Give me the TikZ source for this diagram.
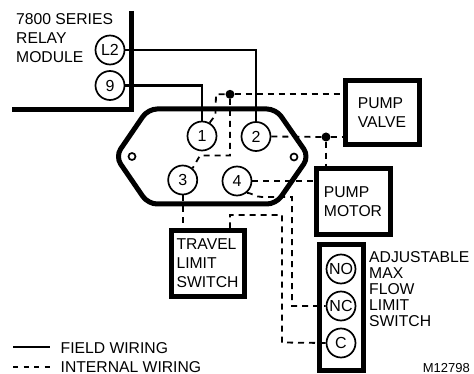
\documentclass[tikz,border=0pt]{standalone}
\usepackage{fontspec}
\setmainfont{Liberation Sans}
\tikzset{
  txt/.style={inner sep=0pt,anchor=base west,align=left,font=\fontsize{15.7}{19}\selectfont},
  term/.style={circle,draw,fill=white,line width=1.7pt,minimum size=29pt,inner sep=0pt,font=\fontsize{16}{16}\selectfont},
  hole/.style={circle,draw,fill=white,line width=1.7pt,minimum size=7pt,inner sep=0pt},
  junction/.style={circle,fill=black,minimum size=9pt,inner sep=0pt},
  devbox/.style={draw,fill=white,line width=5pt,inner sep=0pt,align=left,font=\fontsize{15.7}{19}\selectfont},
  field/.style={line width=2.4pt},
  internal/.style={line width=1.8pt,dash pattern=on 6pt off 5pt},
  heavy/.style={line width=5pt,line join=round},
}
\begin{document}
\begin{tikzpicture}[x=1pt,y=-1pt]
\useasboundingbox (0,0) rectangle (474,374);
% relay module frame
\draw[heavy,line join=miter] (131.7,11) -- (131.7,110) -- (12,110);
% terminal block
\draw[heavy,rounded corners=9pt] (148,109) -- (276,109) -- (309,156.5) -- (276,204) -- (148,204) -- (115.5,156.5) -- cycle;
\node[hole] (holeL) at (132,156.5) {};
\node[hole] (holeR) at (294,157) {};
% terminals
\node[term] (L2) at (110,50) {L2};
\node[term] (R9) at (110,85.5) {9};
\node[term] (c1) at (202,136) {1};
\node[term] (c2) at (256,136.5) {2};
\node[term] (c3) at (182.7,180) {3};
\node[term] (c4) at (237,181) {4};
% devices
\node[devbox,minimum width=74pt,minimum height=64pt] (valve) at (382,113) {PUMP\\VALVE};
\node[devbox,minimum width=74pt,minimum height=66pt] (motor) at (353,202) {PUMP\\MOTOR};
\node[devbox,minimum width=73pt,minimum height=65pt] (travel) at (207.5,263.5) {TRAVEL\\LIMIT\\SWITCH};
\node[devbox,minimum width=44pt,minimum height=125pt] (flow) at (341,307.5) {};
\node[term] (NO) at (341,269) {NO};
\node[term] (NC) at (341,306) {NC};
\node[term] (C) at (341,343) {C};
% junctions and routing points
\node[junction] (j1) at (230,94.3) {};
\node[junction] (j2) at (326,137) {};
\coordinate (a1) at (215.5,115);
\coordinate (a2) at (216,94.3);
\coordinate (b1) at (230,155.5);
\coordinate (b2) at (200,155.5);
\coordinate (d1) at (252,193);
\coordinate (d2) at (262,197);
\coordinate (d3) at (292,197);
\coordinate (d4) at (292,306);
\coordinate (e1) at (230,215);
\coordinate (e2) at (282,215);
\coordinate (e3) at (282,342.5);
% field wiring
\draw[field] (L2.east) -- (c2.north |- L2.east) -- (c2.north);
\draw[field] (R9.east) -- (c1.north |- R9.east) -- (c1.north);
% internal wiring
\draw[internal] (c1.60) -- (a1) -- (a2) -- (j1);
\draw[internal] (j1) -- (valve.west |- j1);
\draw[internal] (j1) -- (b1) -- (b2) -- (c3.50);
\draw[internal] (c2.east) -- (j2);
\draw[internal] (j2) -- (valve.west |- j2);
\draw[internal] (j2) -- (motor.north -| j2);
\draw[internal] (c4.east) -- (motor.west |- c4.east);
\draw[internal] (c4.-50) .. controls (d1) and (255,197) .. (d2) -- (d3) -- (d4) -- (NC.west);
\draw[internal] (c3.south) -- (travel.north -| c3.south);
\draw[internal] (travel.north -| e1) -- (e1) -- (e2) -- (e3) -- (C.west);
% labels
\node[txt] (lblrelay) at (16,63) {7800 SERIES\\RELAY\\MODULE};
\node[txt,font=\fontsize{15.7}{16}\selectfont] (lblflow) at (369,326) {ADJUSTABLE\\MAX\\FLOW\\LIMIT\\SWITCH};
\node[txt,font=\fontsize{13}{15}\selectfont,anchor=base east] (lblnum) at (470,372) {M12798};
% legend
\coordinate (lg1) at (13,347);
\coordinate (lg2) at (50,347);
\coordinate (lg3) at (13,367);
\coordinate (lg4) at (50,367);
\draw[field] (lg1) -- (lg2);
\draw[internal,dash pattern=on 5pt off 5.5pt] (lg3) -- (lg4);
\node[txt] (lblfield) at (60.5,353.5) {FIELD WIRING};
\node[txt] (lblint) at (60.5,372) {INTERNAL WIRING};
\end{tikzpicture}
\end{document}
